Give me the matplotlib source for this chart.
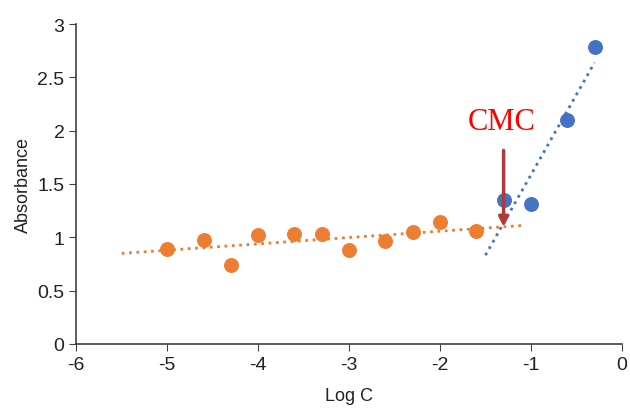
import numpy as np
import matplotlib.pyplot as plt

plt.rcParams['font.family'] = ['Liberation Sans', 'DejaVu Sans']
plt.rcParams['axes.unicode_minus'] = False

# pre-micellar region (orange) and post-micellar region (blue)
logc_low = [-5, -4.6, -4.3, -4, -3.6, -3.3, -3, -2.6, -2.3, -2, -1.6]
abs_low = [0.89, 0.97, 0.74, 1.02, 1.03, 1.03, 0.88, 0.96, 1.05, 1.14, 1.06]
logc_high = [-1.3, -1, -0.6, -0.3]
abs_high = [1.35, 1.31, 2.10, 2.78]

cmc_x = -1.3

orange = "#ED7D31"
blue = "#4472C4"

fig = plt.figure(figsize=(6.3, 4.1), dpi=100)
ax = fig.add_axes([0.121, 0.159, 0.866, 0.78])

# linear trendlines (extended like Excel forecast)
p1 = np.polyfit(logc_low, abs_low, 1)
x1 = np.array([-5.5, -1.1])
ax.plot(x1, np.polyval(p1, x1), ':', color=orange, lw=2)
p2 = np.polyfit(logc_high, abs_high, 1)
x2 = np.array([-1.5, -0.3])
ax.plot(x2, np.polyval(p2, x2), ':', color=blue, lw=2)

ax.scatter(logc_low, abs_low, s=95, color=orange, zorder=3)
ax.scatter(logc_high, abs_high, s=95, color=blue, zorder=3)

ax.annotate("", xy=(cmc_x, 1.07), xytext=(cmc_x, 1.84),
            arrowprops=dict(arrowstyle="-|>", color="#B03A3A", lw=2.5,
                            mutation_scale=14))
ax.text(cmc_x - 0.02, 1.95, "CMC", color="red", fontsize=22, ha="center",
        va="bottom", family="Liberation Serif")

ax.set_xlim(-6, 0)
ax.set_ylim(0, 3)
ax.set_xticks(range(-6, 1))
ax.set_yticks([0, 0.5, 1, 1.5, 2, 2.5, 3])
ax.set_yticklabels(["0", "0.5", "1", "1.5", "2", "2.5", "3"])
for s in ["top", "right"]:
    ax.spines[s].set_visible(False)
for s in ["left", "bottom"]:
    ax.spines[s].set_color("#404040")
    ax.spines[s].set_linewidth(1.2)
ax.tick_params(labelsize=14, colors="#404040", labelcolor="#222222", length=5)
ax.set_xlabel("Log C", fontsize=13, color="#222222", labelpad=10)
ax.set_ylabel("Absorbance", fontsize=13, color="#222222")

plt.savefig("out.png", dpi=100)
plt.close()
